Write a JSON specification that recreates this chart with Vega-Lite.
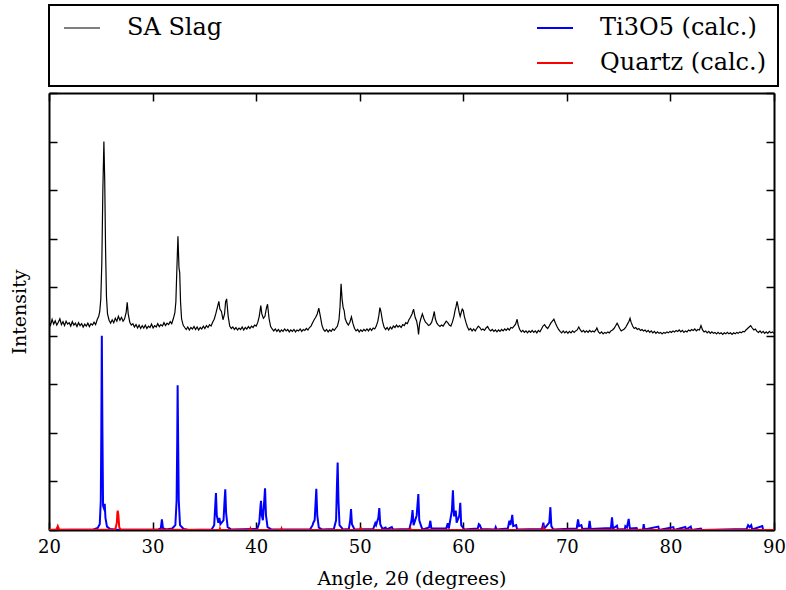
{
  "$schema": "https://vega.github.io/schema/vega-lite/v6.json",
  "width": 725,
  "height": 437,
  "autosize": {"type": "none"},
  "padding": {"left": 49, "top": 93, "right": 12, "bottom": 60},
  "background": "white",
  "config": {
    "view": {"stroke": null},
    "font": "DejaVu Serif",
    "axis": {
      "domainColor": "black", "domainWidth": 2, "tickColor": "black", "tickWidth": 1.5,
      "tickSize": -8, "grid": false, "zindex": 1, "labelFlush": false,
      "labelFont": "DejaVu Serif", "labelFontSize": 18, "labelColor": "black",
      "titleFont": "DejaVu Serif", "titleFontSize": 19, "titleFontWeight": "normal", "titleColor": "black"
    },
    "legend": {
      "orient": "none", "legendX": 0, "legendY": -88, "columns": 2, "columnPadding": 310,
      "rowPadding": 11, "padding": 11, "strokeColor": "black", "strokeWidth": 2, "fillColor": "white",
      "symbolType": "stroke", "symbolSize": 1296, "symbolStrokeWidth": 2, "symbolOffset": 10,
      "labelFont": "DejaVu Serif", "labelFontSize": 24, "labelColor": "black", "labelOffset": 33, "labelLimit": 500,
      "gridAlign": "each"
    }
  },
  "resolve": {"scale": {"x": "shared", "y": "shared", "color": "shared"}, "axis": {"x": "independent", "y": "independent"}},
  "layer": [
    {
      "data": {"values": [
{"a":20.0,"i":4.30},{"a":20.15,"i":4.22},{"a":20.3,"i":4.34},{"a":20.45,"i":4.24},{"a":20.6,"i":4.31},{"a":20.75,"i":4.22},{"a":20.9,"i":4.28},{"a":21.05,"i":4.35},{"a":21.2,"i":4.23},{"a":21.35,"i":4.29},{"a":21.5,"i":4.21},{"a":21.65,"i":4.30},{"a":21.8,"i":4.24},{"a":21.95,"i":4.27},{"a":22.1,"i":4.20},{"a":22.25,"i":4.29},{"a":22.4,"i":4.22},{"a":22.55,"i":4.26},{"a":22.7,"i":4.19},{"a":22.85,"i":4.27},{"a":23.0,"i":4.21},{"a":23.15,"i":4.25},{"a":23.3,"i":4.18},{"a":23.45,"i":4.24},{"a":23.6,"i":4.20},{"a":23.75,"i":4.26},{"a":23.9,"i":4.19},{"a":24.05,"i":4.25},{"a":24.2,"i":4.22},{"a":24.35,"i":4.28},{"a":24.5,"i":4.23},{"a":24.65,"i":4.33},{"a":24.8,"i":4.40},{"a":24.9,"i":4.50},{"a":25.0,"i":4.75},{"a":25.1,"i":5.50},{"a":25.2,"i":7.00},{"a":25.3,"i":8.00},{"a":25.38,"i":7.20},{"a":25.46,"i":5.80},{"a":25.55,"i":4.80},{"a":25.65,"i":4.45},{"a":25.8,"i":4.32},{"a":25.95,"i":4.26},{"a":26.1,"i":4.33},{"a":26.25,"i":4.27},{"a":26.4,"i":4.36},{"a":26.55,"i":4.30},{"a":26.7,"i":4.40},{"a":26.85,"i":4.32},{"a":27.0,"i":4.38},{"a":27.15,"i":4.30},{"a":27.3,"i":4.35},{"a":27.45,"i":4.48},{"a":27.55,"i":4.69},{"a":27.65,"i":4.45},{"a":27.8,"i":4.28},{"a":27.95,"i":4.22},{"a":28.1,"i":4.25},{"a":28.25,"i":4.18},{"a":28.4,"i":4.23},{"a":28.55,"i":4.16},{"a":28.7,"i":4.22},{"a":28.85,"i":4.15},{"a":29.0,"i":4.21},{"a":29.15,"i":4.16},{"a":29.3,"i":4.22},{"a":29.45,"i":4.15},{"a":29.6,"i":4.20},{"a":29.75,"i":4.17},{"a":29.9,"i":4.24},{"a":30.05,"i":4.16},{"a":30.2,"i":4.21},{"a":30.35,"i":4.18},{"a":30.5,"i":4.25},{"a":30.65,"i":4.19},{"a":30.8,"i":4.23},{"a":30.95,"i":4.20},{"a":31.1,"i":4.27},{"a":31.25,"i":4.21},{"a":31.4,"i":4.26},{"a":31.55,"i":4.23},{"a":31.7,"i":4.29},{"a":31.85,"i":4.25},{"a":32.0,"i":4.35},{"a":32.15,"i":4.47},{"a":32.25,"i":4.70},{"a":32.35,"i":5.40},{"a":32.45,"i":6.05},{"a":32.55,"i":5.40},{"a":32.62,"i":5.30},{"a":32.7,"i":4.70},{"a":32.8,"i":4.35},{"a":32.95,"i":4.22},{"a":33.1,"i":4.17},{"a":33.25,"i":4.13},{"a":33.4,"i":4.18},{"a":33.55,"i":4.12},{"a":33.7,"i":4.17},{"a":33.85,"i":4.14},{"a":34.0,"i":4.19},{"a":34.15,"i":4.13},{"a":34.3,"i":4.18},{"a":34.45,"i":4.12},{"a":34.6,"i":4.17},{"a":34.75,"i":4.14},{"a":34.9,"i":4.20},{"a":35.05,"i":4.15},{"a":35.2,"i":4.21},{"a":35.35,"i":4.17},{"a":35.5,"i":4.23},{"a":35.65,"i":4.20},{"a":35.8,"i":4.28},{"a":35.95,"i":4.34},{"a":36.1,"i":4.45},{"a":36.25,"i":4.58},{"a":36.4,"i":4.71},{"a":36.5,"i":4.55},{"a":36.65,"i":4.50},{"a":36.8,"i":4.33},{"a":36.95,"i":4.45},{"a":37.05,"i":4.70},{"a":37.15,"i":4.76},{"a":37.3,"i":4.40},{"a":37.45,"i":4.20},{"a":37.6,"i":4.15},{"a":37.75,"i":4.18},{"a":37.9,"i":4.13},{"a":38.05,"i":4.17},{"a":38.2,"i":4.12},{"a":38.35,"i":4.16},{"a":38.5,"i":4.13},{"a":38.65,"i":4.18},{"a":38.8,"i":4.12},{"a":38.95,"i":4.17},{"a":39.1,"i":4.14},{"a":39.25,"i":4.19},{"a":39.4,"i":4.15},{"a":39.55,"i":4.20},{"a":39.7,"i":4.17},{"a":39.85,"i":4.22},{"a":40.0,"i":4.20},{"a":40.15,"i":4.27},{"a":40.3,"i":4.40},{"a":40.45,"i":4.62},{"a":40.55,"i":4.45},{"a":40.7,"i":4.36},{"a":40.85,"i":4.40},{"a":41.0,"i":4.58},{"a":41.1,"i":4.65},{"a":41.25,"i":4.35},{"a":41.4,"i":4.19},{"a":41.55,"i":4.14},{"a":41.7,"i":4.10},{"a":41.85,"i":4.14},{"a":42.0,"i":4.09},{"a":42.15,"i":4.13},{"a":42.3,"i":4.08},{"a":42.45,"i":4.12},{"a":42.6,"i":4.09},{"a":42.75,"i":4.14},{"a":42.9,"i":4.10},{"a":43.05,"i":4.13},{"a":43.2,"i":4.08},{"a":43.35,"i":4.12},{"a":43.5,"i":4.09},{"a":43.65,"i":4.13},{"a":43.8,"i":4.08},{"a":43.95,"i":4.12},{"a":44.1,"i":4.10},{"a":44.25,"i":4.14},{"a":44.4,"i":4.09},{"a":44.55,"i":4.13},{"a":44.7,"i":4.11},{"a":44.85,"i":4.15},{"a":45.0,"i":4.12},{"a":45.15,"i":4.17},{"a":45.3,"i":4.20},{"a":45.45,"i":4.27},{"a":45.6,"i":4.33},{"a":45.75,"i":4.38},{"a":45.9,"i":4.45},{"a":46.05,"i":4.57},{"a":46.2,"i":4.40},{"a":46.35,"i":4.22},{"a":46.5,"i":4.13},{"a":46.65,"i":4.09},{"a":46.8,"i":4.13},{"a":46.95,"i":4.08},{"a":47.1,"i":4.12},{"a":47.25,"i":4.09},{"a":47.4,"i":4.14},{"a":47.55,"i":4.11},{"a":47.7,"i":4.16},{"a":47.85,"i":4.20},{"a":48.0,"i":4.33},{"a":48.1,"i":4.60},{"a":48.2,"i":5.07},{"a":48.3,"i":4.75},{"a":48.4,"i":4.58},{"a":48.5,"i":4.52},{"a":48.6,"i":4.35},{"a":48.75,"i":4.27},{"a":48.9,"i":4.22},{"a":49.05,"i":4.28},{"a":49.2,"i":4.39},{"a":49.35,"i":4.25},{"a":49.5,"i":4.15},{"a":49.65,"i":4.10},{"a":49.8,"i":4.13},{"a":49.95,"i":4.08},{"a":50.1,"i":4.12},{"a":50.25,"i":4.09},{"a":50.4,"i":4.13},{"a":50.55,"i":4.10},{"a":50.7,"i":4.14},{"a":50.85,"i":4.10},{"a":51.0,"i":4.15},{"a":51.15,"i":4.11},{"a":51.3,"i":4.16},{"a":51.45,"i":4.14},{"a":51.6,"i":4.20},{"a":51.75,"i":4.30},{"a":51.85,"i":4.42},{"a":51.95,"i":4.58},{"a":52.05,"i":4.50},{"a":52.2,"i":4.30},{"a":52.35,"i":4.18},{"a":52.5,"i":4.13},{"a":52.65,"i":4.17},{"a":52.8,"i":4.12},{"a":52.95,"i":4.18},{"a":53.1,"i":4.14},{"a":53.25,"i":4.20},{"a":53.4,"i":4.17},{"a":53.55,"i":4.22},{"a":53.7,"i":4.18},{"a":53.85,"i":4.21},{"a":54.0,"i":4.17},{"a":54.15,"i":4.23},{"a":54.3,"i":4.21},{"a":54.45,"i":4.27},{"a":54.6,"i":4.25},{"a":54.75,"i":4.33},{"a":54.9,"i":4.38},{"a":55.05,"i":4.45},{"a":55.2,"i":4.55},{"a":55.35,"i":4.38},{"a":55.5,"i":4.30},{"a":55.6,"i":4.18},{"a":55.68,"i":4.03},{"a":55.78,"i":4.25},{"a":55.9,"i":4.35},{"a":56.05,"i":4.45},{"a":56.2,"i":4.35},{"a":56.35,"i":4.28},{"a":56.5,"i":4.25},{"a":56.65,"i":4.21},{"a":56.8,"i":4.23},{"a":56.95,"i":4.28},{"a":57.1,"i":4.40},{"a":57.2,"i":4.50},{"a":57.3,"i":4.35},{"a":57.45,"i":4.26},{"a":57.6,"i":4.22},{"a":57.75,"i":4.19},{"a":57.9,"i":4.22},{"a":58.05,"i":4.20},{"a":58.2,"i":4.25},{"a":58.35,"i":4.30},{"a":58.5,"i":4.27},{"a":58.65,"i":4.22},{"a":58.8,"i":4.20},{"a":58.95,"i":4.28},{"a":59.1,"i":4.40},{"a":59.2,"i":4.52},{"a":59.3,"i":4.60},{"a":59.4,"i":4.71},{"a":59.5,"i":4.60},{"a":59.6,"i":4.48},{"a":59.7,"i":4.40},{"a":59.8,"i":4.48},{"a":59.9,"i":4.55},{"a":60.0,"i":4.52},{"a":60.1,"i":4.40},{"a":60.25,"i":4.28},{"a":60.4,"i":4.18},{"a":60.55,"i":4.12},{"a":60.7,"i":4.15},{"a":60.85,"i":4.10},{"a":61.0,"i":4.14},{"a":61.15,"i":4.10},{"a":61.3,"i":4.15},{"a":61.45,"i":4.20},{"a":61.6,"i":4.17},{"a":61.75,"i":4.12},{"a":61.9,"i":4.14},{"a":62.05,"i":4.11},{"a":62.2,"i":4.16},{"a":62.35,"i":4.19},{"a":62.5,"i":4.13},{"a":62.65,"i":4.10},{"a":62.8,"i":4.13},{"a":62.95,"i":4.09},{"a":63.1,"i":4.12},{"a":63.25,"i":4.08},{"a":63.4,"i":4.12},{"a":63.55,"i":4.09},{"a":63.7,"i":4.13},{"a":63.85,"i":4.10},{"a":64.0,"i":4.14},{"a":64.15,"i":4.11},{"a":64.3,"i":4.15},{"a":64.45,"i":4.12},{"a":64.6,"i":4.17},{"a":64.75,"i":4.16},{"a":64.9,"i":4.20},{"a":65.05,"i":4.24},{"a":65.2,"i":4.34},{"a":65.3,"i":4.22},{"a":65.45,"i":4.13},{"a":65.6,"i":4.08},{"a":65.75,"i":4.11},{"a":65.9,"i":4.07},{"a":66.05,"i":4.10},{"a":66.2,"i":4.06},{"a":66.35,"i":4.10},{"a":66.5,"i":4.07},{"a":66.65,"i":4.11},{"a":66.8,"i":4.07},{"a":66.95,"i":4.10},{"a":67.1,"i":4.06},{"a":67.25,"i":4.11},{"a":67.4,"i":4.08},{"a":67.55,"i":4.14},{"a":67.7,"i":4.20},{"a":67.85,"i":4.23},{"a":68.0,"i":4.18},{"a":68.15,"i":4.15},{"a":68.3,"i":4.20},{"a":68.45,"i":4.26},{"a":68.6,"i":4.30},{"a":68.75,"i":4.34},{"a":68.9,"i":4.26},{"a":69.05,"i":4.19},{"a":69.2,"i":4.13},{"a":69.35,"i":4.09},{"a":69.5,"i":4.06},{"a":69.65,"i":4.10},{"a":69.8,"i":4.06},{"a":69.95,"i":4.09},{"a":70.1,"i":4.05},{"a":70.25,"i":4.09},{"a":70.4,"i":4.06},{"a":70.55,"i":4.10},{"a":70.7,"i":4.07},{"a":70.85,"i":4.10},{"a":71.0,"i":4.12},{"a":71.15,"i":4.18},{"a":71.3,"i":4.12},{"a":71.45,"i":4.08},{"a":71.6,"i":4.11},{"a":71.75,"i":4.07},{"a":71.9,"i":4.10},{"a":72.05,"i":4.07},{"a":72.2,"i":4.11},{"a":72.35,"i":4.08},{"a":72.5,"i":4.10},{"a":72.65,"i":4.08},{"a":72.8,"i":4.12},{"a":72.9,"i":4.16},{"a":73.05,"i":4.08},{"a":73.2,"i":4.05},{"a":73.35,"i":4.08},{"a":73.5,"i":4.04},{"a":73.65,"i":4.07},{"a":73.8,"i":4.05},{"a":73.95,"i":4.08},{"a":74.1,"i":4.06},{"a":74.25,"i":4.10},{"a":74.4,"i":4.12},{"a":74.55,"i":4.15},{"a":74.7,"i":4.20},{"a":74.85,"i":4.26},{"a":74.95,"i":4.22},{"a":75.1,"i":4.15},{"a":75.25,"i":4.10},{"a":75.4,"i":4.12},{"a":75.55,"i":4.14},{"a":75.7,"i":4.18},{"a":75.85,"i":4.24},{"a":76.0,"i":4.30},{"a":76.1,"i":4.36},{"a":76.2,"i":4.28},{"a":76.35,"i":4.20},{"a":76.5,"i":4.15},{"a":76.65,"i":4.17},{"a":76.8,"i":4.13},{"a":76.95,"i":4.15},{"a":77.1,"i":4.11},{"a":77.25,"i":4.13},{"a":77.4,"i":4.10},{"a":77.55,"i":4.12},{"a":77.7,"i":4.08},{"a":77.85,"i":4.11},{"a":78.0,"i":4.07},{"a":78.15,"i":4.10},{"a":78.3,"i":4.06},{"a":78.45,"i":4.09},{"a":78.6,"i":4.05},{"a":78.75,"i":4.08},{"a":78.9,"i":4.05},{"a":79.05,"i":4.07},{"a":79.2,"i":4.04},{"a":79.35,"i":4.07},{"a":79.5,"i":4.05},{"a":79.65,"i":4.08},{"a":79.8,"i":4.06},{"a":79.95,"i":4.09},{"a":80.1,"i":4.07},{"a":80.25,"i":4.10},{"a":80.4,"i":4.08},{"a":80.55,"i":4.11},{"a":80.7,"i":4.09},{"a":80.85,"i":4.12},{"a":81.0,"i":4.08},{"a":81.15,"i":4.11},{"a":81.3,"i":4.07},{"a":81.45,"i":4.10},{"a":81.6,"i":4.08},{"a":81.75,"i":4.12},{"a":81.9,"i":4.10},{"a":82.05,"i":4.13},{"a":82.2,"i":4.11},{"a":82.35,"i":4.14},{"a":82.5,"i":4.10},{"a":82.65,"i":4.13},{"a":82.8,"i":4.12},{"a":82.95,"i":4.21},{"a":83.1,"i":4.12},{"a":83.25,"i":4.08},{"a":83.4,"i":4.10},{"a":83.55,"i":4.06},{"a":83.7,"i":4.09},{"a":83.85,"i":4.05},{"a":84.0,"i":4.08},{"a":84.15,"i":4.05},{"a":84.3,"i":4.07},{"a":84.45,"i":4.04},{"a":84.6,"i":4.07},{"a":84.75,"i":4.04},{"a":84.9,"i":4.06},{"a":85.05,"i":4.03},{"a":85.2,"i":4.06},{"a":85.35,"i":4.04},{"a":85.5,"i":4.07},{"a":85.65,"i":4.04},{"a":85.8,"i":4.06},{"a":85.95,"i":4.03},{"a":86.1,"i":4.06},{"a":86.25,"i":4.04},{"a":86.4,"i":4.07},{"a":86.55,"i":4.05},{"a":86.7,"i":4.08},{"a":86.85,"i":4.06},{"a":87.0,"i":4.09},{"a":87.15,"i":4.08},{"a":87.3,"i":4.12},{"a":87.45,"i":4.15},{"a":87.6,"i":4.18},{"a":87.75,"i":4.21},{"a":87.9,"i":4.16},{"a":88.05,"i":4.12},{"a":88.2,"i":4.14},{"a":88.35,"i":4.09},{"a":88.5,"i":4.07},{"a":88.65,"i":4.10},{"a":88.8,"i":4.06},{"a":88.95,"i":4.09},{"a":89.1,"i":4.05},{"a":89.25,"i":4.08},{"a":89.4,"i":4.05},{"a":89.55,"i":4.09},{"a":89.7,"i":4.06},{"a":89.85,"i":4.08},{"a":90.0,"i":4.05}
      ]},
      "mark": {"type": "line", "strokeWidth": 1.2, "clip": true},
      "encoding": {
        "x": {"field": "a", "type": "quantitative", "scale": {"domain": [20, 90], "nice": false, "zero": false},
              "axis": {"orient": "bottom", "values": [20, 30, 40, 50, 60, 70, 80, 90], "title": "Angle, 2θ (degrees)", "labelPadding": 16, "titlePadding": 13}},
        "y": {"field": "i", "type": "quantitative", "scale": {"domain": [0, 9], "nice": false, "zero": false},
              "axis": {"orient": "left", "values": [0, 1, 2, 3, 4, 5, 6, 7, 8, 9], "labels": false, "title": "Intensity", "titlePadding": 19}},
        "color": {"datum": "SA Slag", "type": "nominal",
                  "scale": {"domain": ["SA Slag", " ", "Ti3O5 (calc.)", "Quartz (calc.)"], "range": ["black", "rgba(0,0,0,0)", "blue", "red"]},
                  "legend": {"title": null, "encode": {"symbols": {"update": {"strokeWidth": {"signal": "datum.value === 'SA Slag' ? 1 : 2"}}}}}}
      }
    },
    {
      "data": {"values": [
{"a":20.0,"i":0},{"a":24.3,"i":0.01},{"a":24.7,"i":0.04},{"a":24.9,"i":0.12},{"a":25.0,"i":0.6},{"a":25.05,"i":2.0},{"a":25.1,"i":4.0},{"a":25.16,"i":2.0},{"a":25.22,"i":0.5},{"a":25.3,"i":0.45},{"a":25.38,"i":0.54},{"a":25.45,"i":0.25},{"a":25.6,"i":0.07},{"a":25.9,"i":0.02},{"a":26.5,"i":0.005},{"a":30.5,"i":0.005},{"a":30.8,"i":0.04},{"a":30.9,"i":0.22},{"a":31.0,"i":0.04},{"a":31.3,"i":0.01},{"a":31.9,"i":0.03},{"a":32.2,"i":0.1},{"a":32.32,"i":0.6},{"a":32.38,"i":1.8},{"a":32.42,"i":2.98},{"a":32.47,"i":1.8},{"a":32.53,"i":0.6},{"a":32.65,"i":0.1},{"a":33.0,"i":0.02},{"a":33.5,"i":0},{"a":35.7,"i":0.01},{"a":35.95,"i":0.1},{"a":36.05,"i":0.5},{"a":36.12,"i":0.76},{"a":36.2,"i":0.3},{"a":36.35,"i":0.15},{"a":36.45,"i":0.25},{"a":36.55,"i":0.12},{"a":36.85,"i":0.2},{"a":36.95,"i":0.6},{"a":37.02,"i":0.84},{"a":37.1,"i":0.35},{"a":37.25,"i":0.06},{"a":37.6,"i":0.01},{"a":40.1,"i":0.02},{"a":40.3,"i":0.15},{"a":40.42,"i":0.5},{"a":40.47,"i":0.6},{"a":40.55,"i":0.3},{"a":40.65,"i":0.2},{"a":40.78,"i":0.6},{"a":40.86,"i":0.86},{"a":40.95,"i":0.3},{"a":41.1,"i":0.06},{"a":41.5,"i":0.01},{"a":45.2,"i":0.01},{"a":45.45,"i":0.1},{"a":45.52,"i":0.15},{"a":45.65,"i":0.2},{"a":45.75,"i":0.6},{"a":45.81,"i":0.85},{"a":45.9,"i":0.3},{"a":46.05,"i":0.05},{"a":46.4,"i":0.01},{"a":47.5,"i":0.02},{"a":47.72,"i":0.2},{"a":47.8,"i":0.9},{"a":47.87,"i":1.39},{"a":47.95,"i":0.6},{"a":48.05,"i":0.1},{"a":48.4,"i":0.01},{"a":48.95,"i":0.02},{"a":49.08,"i":0.2},{"a":49.16,"i":0.43},{"a":49.25,"i":0.12},{"a":49.5,"i":0.01},{"a":51.3,"i":0.02},{"a":51.5,"i":0.14},{"a":51.58,"i":0.1},{"a":51.8,"i":0.25},{"a":51.89,"i":0.45},{"a":51.98,"i":0.12},{"a":52.2,"i":0.02},{"a":52.5,"i":0.05},{"a":52.6,"i":0.01},{"a":53.1,"i":0.06},{"a":53.2,"i":0.01},{"a":54.8,"i":0.02},{"a":55.0,"i":0.2},{"a":55.1,"i":0.41},{"a":55.2,"i":0.1},{"a":55.5,"i":0.3},{"a":55.66,"i":0.74},{"a":55.75,"i":0.2},{"a":55.98,"i":0.05},{"a":56.1,"i":0.01},{"a":56.7,"i":0.05},{"a":56.82,"i":0.19},{"a":56.92,"i":0.03},{"a":58.35,"i":0.03},{"a":58.5,"i":0.14},{"a":58.6,"i":0.03},{"a":58.9,"i":0.4},{"a":59.0,"i":0.82},{"a":59.1,"i":0.3},{"a":59.18,"i":0.3},{"a":59.27,"i":0.40},{"a":59.36,"i":0.15},{"a":59.62,"i":0.3},{"a":59.71,"i":0.56},{"a":59.8,"i":0.1},{"a":60.1,"i":0.01},{"a":61.4,"i":0.03},{"a":61.5,"i":0.12},{"a":61.6,"i":0.1},{"a":61.75,"i":0.02},{"a":63.05,"i":0.01},{"a":63.13,"i":0.06},{"a":63.22,"i":0.01},{"a":64.3,"i":0.03},{"a":64.45,"i":0.19},{"a":64.55,"i":0.1},{"a":64.65,"i":0.2},{"a":64.73,"i":0.31},{"a":64.82,"i":0.08},{"a":65.1,"i":0.10},{"a":65.2,"i":0.01},{"a":67.6,"i":0.02},{"a":67.73,"i":0.15},{"a":67.82,"i":0.03},{"a":68.3,"i":0.15},{"a":68.41,"i":0.47},{"a":68.5,"i":0.08},{"a":68.7,"i":0.01},{"a":70.95,"i":0.03},{"a":71.08,"i":0.22},{"a":71.18,"i":0.08},{"a":71.4,"i":0.1},{"a":71.5,"i":0.02},{"a":72.1,"i":0.03},{"a":72.2,"i":0.19},{"a":72.3,"i":0.02},{"a":74.25,"i":0.04},{"a":74.36,"i":0.26},{"a":74.46,"i":0.03},{"a":74.84,"i":0.09},{"a":74.92,"i":0.01},{"a":75.6,"i":0.02},{"a":75.65,"i":0.08},{"a":75.8,"i":0.05},{"a":75.97,"i":0.23},{"a":76.08,"i":0.03},{"a":76.74,"i":0.04},{"a":76.8,"i":0.0},{"a":77.35,"i":0.01},{"a":77.42,"i":0.12},{"a":77.5,"i":0.01},{"a":78.83,"i":0.07},{"a":78.9,"i":0},{"a":80.28,"i":0.06},{"a":80.35,"i":0},{"a":81.44,"i":0.06},{"a":81.5,"i":0.01},{"a":81.96,"i":0.07},{"a":82.05,"i":0},{"a":82.95,"i":0.03},{"a":83.05,"i":0},{"a":87.35,"i":0.02},{"a":87.5,"i":0.1},{"a":87.65,"i":0.06},{"a":87.8,"i":0.1},{"a":87.9,"i":0.01},{"a":88.87,"i":0.08},{"a":88.95,"i":0},{"a":90.0,"i":0}
      ]},
      "mark": {"type": "line", "strokeWidth": 2, "clip": true},
      "encoding": {
        "x": {"field": "a", "type": "quantitative", "axis": null},
        "y": {"field": "i", "type": "quantitative", "axis": null},
        "color": {"datum": "Ti3O5 (calc.)", "type": "nominal"}
      }
    },
    {
      "data": {"values": [
{"a":20.0,"i":0},{"a":20.7,"i":0.01},{"a":20.8,"i":0.05},{"a":20.85,"i":0.08},{"a":20.92,"i":0.04},{"a":21.0,"i":0.005},{"a":26.4,"i":0.01},{"a":26.55,"i":0.15},{"a":26.6,"i":0.35},{"a":26.64,"i":0.40},{"a":26.7,"i":0.3},{"a":26.78,"i":0.06},{"a":26.9,"i":0.01},{"a":36.45,"i":0},{"a":36.5,"i":0.03},{"a":36.55,"i":0},{"a":39.4,"i":0},{"a":39.45,"i":0.03},{"a":39.5,"i":0},{"a":42.4,"i":0},{"a":42.45,"i":0.03},{"a":42.5,"i":0},{"a":50.05,"i":0},{"a":50.1,"i":0.05},{"a":50.15,"i":0},{"a":54.85,"i":0},{"a":54.9,"i":0.03},{"a":54.95,"i":0},{"a":67.7,"i":0},{"a":67.75,"i":0.04},{"a":67.8,"i":0},{"a":90.0,"i":0}
      ]},
      "mark": {"type": "line", "strokeWidth": 2, "clip": true},
      "encoding": {
        "x": {"field": "a", "type": "quantitative", "axis": {"orient": "top", "values": [20, 30, 40, 50, 60, 70, 80, 90], "labels": false, "title": null}},
        "y": {"field": "i", "type": "quantitative", "axis": {"orient": "right", "values": [0, 1, 2, 3, 4, 5, 6, 7, 8, 9], "labels": false, "title": null}},
        "color": {"datum": "Quartz (calc.)", "type": "nominal"}
      }
    }
  ]
}
